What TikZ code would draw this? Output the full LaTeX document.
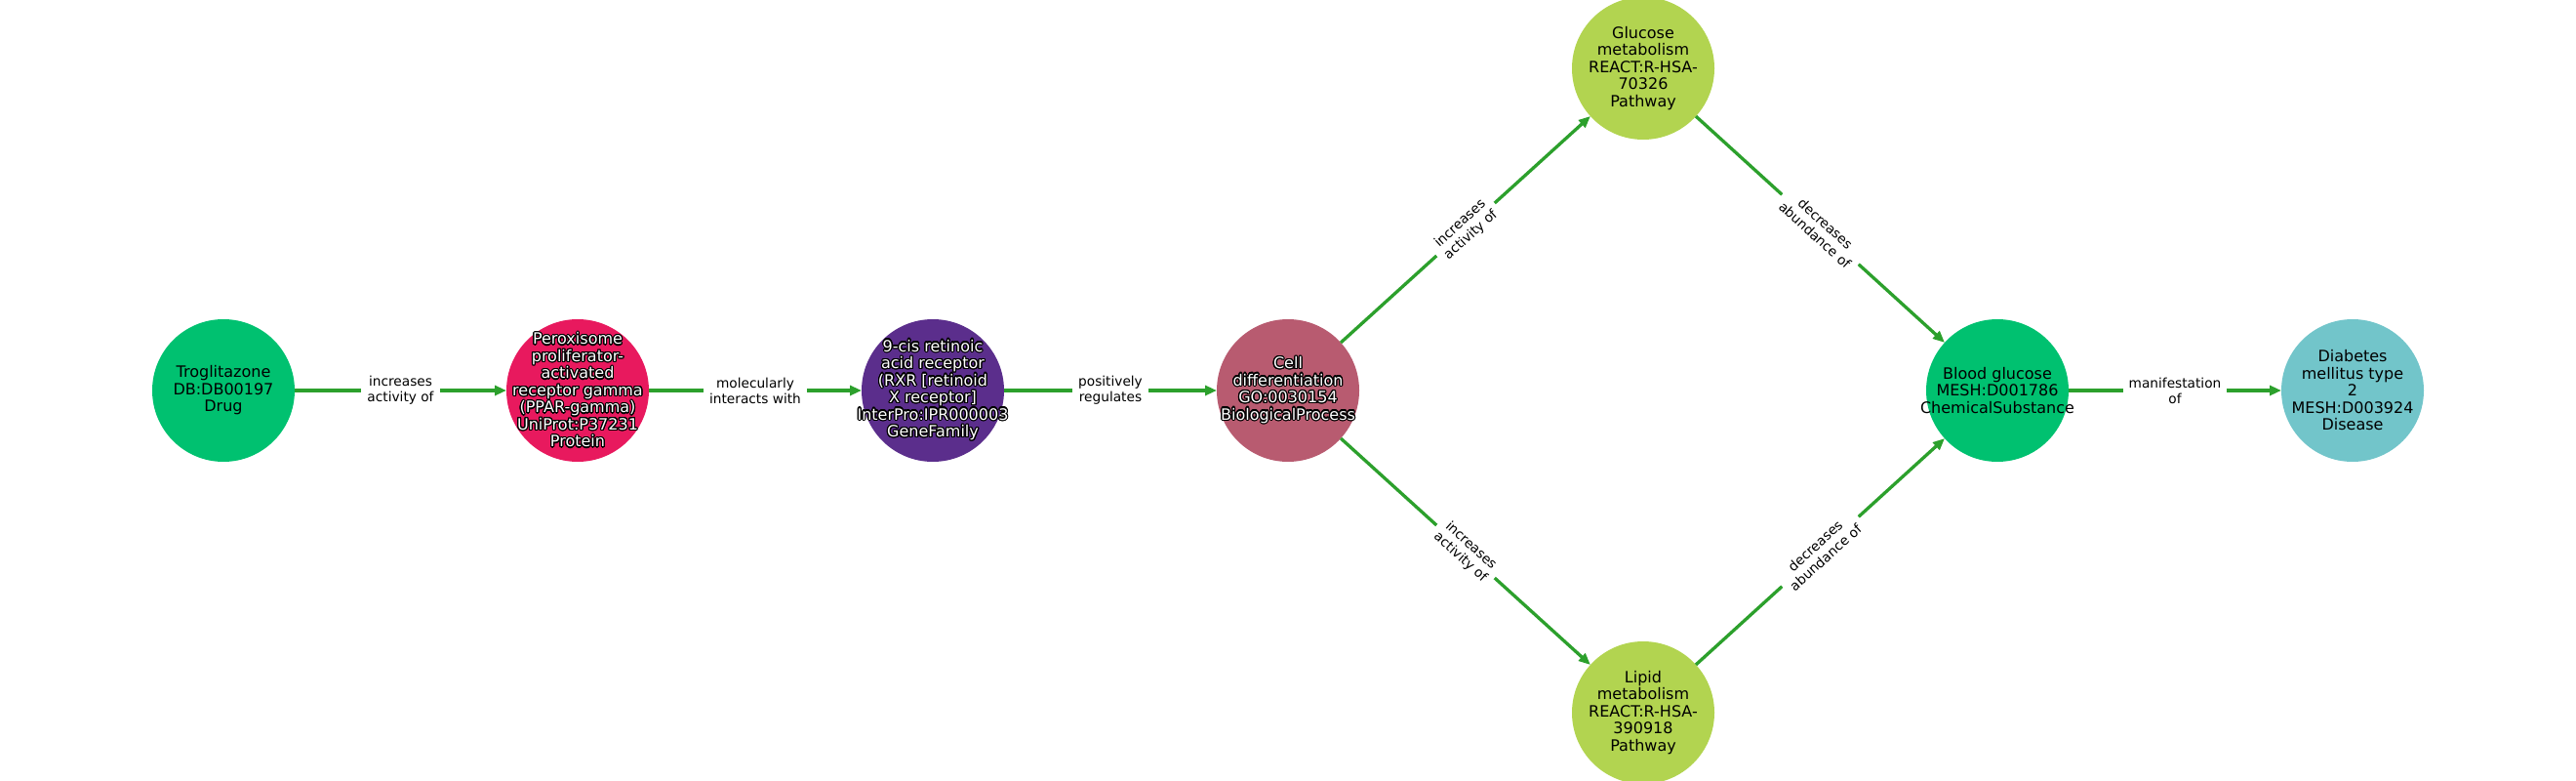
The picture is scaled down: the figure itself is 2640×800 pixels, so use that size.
\documentclass[tikz,border=0pt]{standalone}
\usepackage{fontspec}
\setmainfont{DejaVu Sans}
\usepackage{contour}
\usetikzlibrary{arrows.meta}
\contourlength{1.2pt}
\newcommand{\wt}[1]{\contour{black}{\textcolor{white}{#1}}}
\definecolor{drugGreen}{HTML}{00C170}
\definecolor{protPink}{HTML}{E8195E}
\definecolor{famPurple}{HTML}{5B2E8C}
\definecolor{procRose}{HTML}{B85B70}
\definecolor{pathLime}{HTML}{B2D450}
\definecolor{disTeal}{HTML}{72C5CA}
\definecolor{relGreen}{HTML}{2CA02C}
\tikzset{
  ent/.style={circle,minimum size=146pt,inner sep=0pt,outer sep=0pt,fill=#1},
  enttext/.style={align=center,inner sep=0pt,font=\fontsize{16}{17.5}\selectfont},
  rel/.style={draw=relGreen,line width=3.3pt,-{Triangle[length=12pt,width=10pt]}},
  lbl/.style={fill=white,sloped,align=center,inner xsep=6pt,inner ysep=2pt,
    font=\fontsize{13.7}{16}\selectfont}
}
\begin{document}
\begin{tikzpicture}[x=1pt,y=-1pt]
\useasboundingbox (0,0) rectangle (2640,800);
% entities
\node[ent=drugGreen,label={[enttext]center:{Troglitazone\\DB:DB00197\\Drug}}] (trog) at (229,400) {};
\node[ent=protPink,label={[enttext]center:{\wt{Peroxisome}\\\wt{proliferator-}\\\wt{activated}\\\wt{receptor gamma}\\\wt{(PPAR-gamma)}\\\wt{UniProt:P37231}\\\wt{Protein}}}] (ppar) at (592,400) {};
\node[ent=famPurple,label={[enttext]center:{\wt{9-cis retinoic}\\\wt{acid receptor}\\\wt{(RXR [retinoid}\\\wt{X receptor]}\\\wt{InterPro:IPR000003}\\\wt{GeneFamily}}}] (rxr) at (956,400) {};
\node[ent=procRose,label={[enttext]center:{\wt{Cell}\\\wt{differentiation}\\\wt{GO:0030154}\\\wt{BiologicalProcess}}}] (celldiff) at (1320,400) {};
\node[ent=pathLime,label={[enttext]center:{Glucose\\metabolism\\REACT:R-HSA-\\70326\\Pathway}}] (glcmet) at (1684,70) {};
\node[ent=pathLime,label={[enttext]center:{Lipid\\metabolism\\REACT:R-HSA-\\390918\\Pathway}}] (lipmet) at (1684,730) {};
\node[ent=drugGreen,label={[enttext]center:{Blood glucose\\MESH:D001786\\ChemicalSubstance}}] (bldglc) at (2047,400) {};
\node[ent=disTeal,label={[enttext]center:{Diabetes\\mellitus type\\2\\MESH:D003924\\Disease}}] (t2d) at (2411,400) {};
% relations
\draw[rel] (trog) -- node[lbl]{increases\\activity of} (ppar);
\draw[rel] (ppar) -- node[lbl]{molecularly\\interacts with} (rxr);
\draw[rel] (rxr) -- node[lbl]{positively\\regulates} (celldiff);
\draw[rel] (celldiff) -- node[lbl]{increases\\activity of} (glcmet);
\draw[rel] (celldiff) -- node[lbl]{increases\\activity of} (lipmet);
\draw[rel] (glcmet) -- node[lbl]{decreases\\abundance of} (bldglc);
\draw[rel] (lipmet) -- node[lbl]{decreases\\abundance of} (bldglc);
\draw[rel] (bldglc) -- node[lbl]{manifestation\\of} (t2d);
\end{tikzpicture}
\end{document}
